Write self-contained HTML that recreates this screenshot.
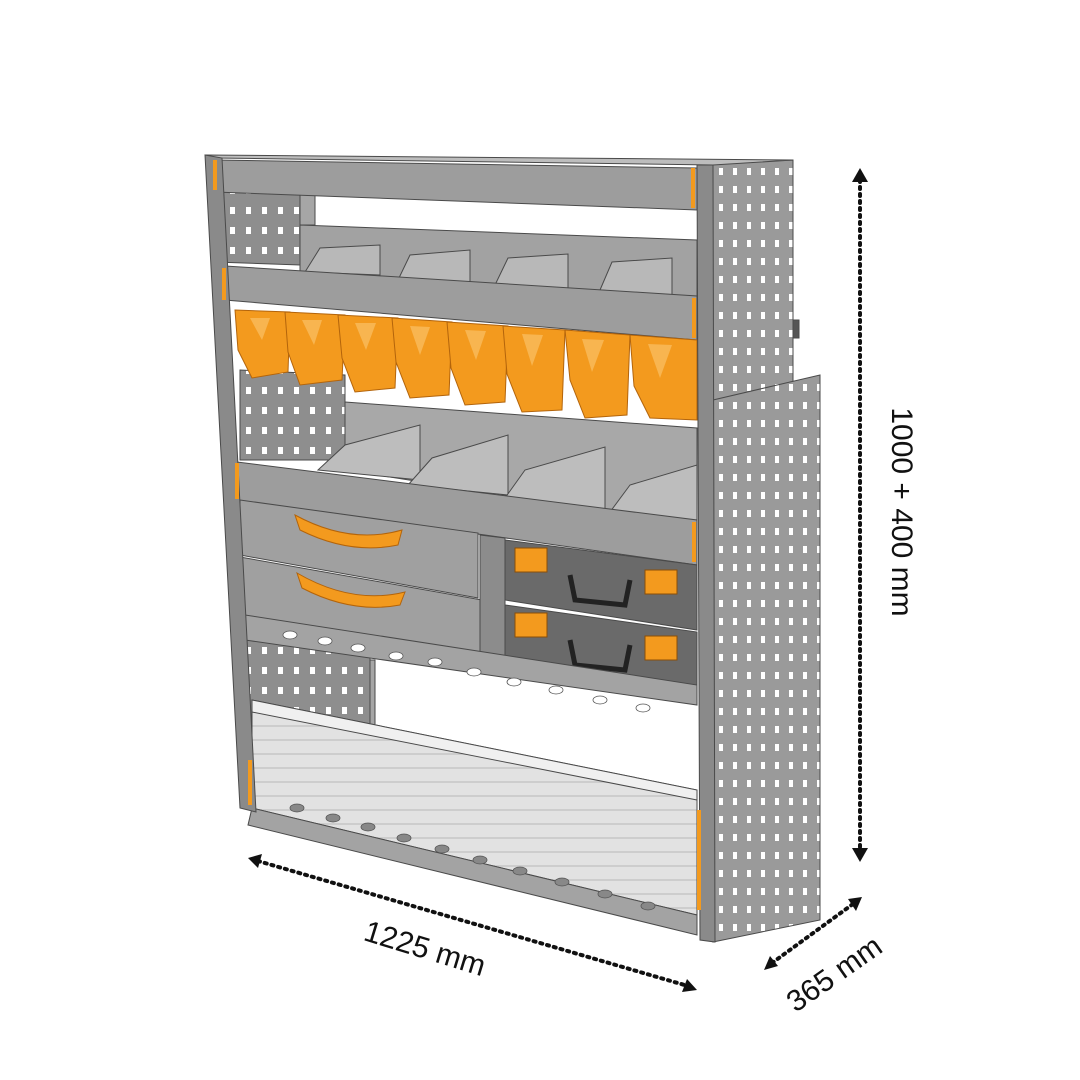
<!DOCTYPE html>
<html><head><meta charset="utf-8"><style>
html,body{margin:0;padding:0;background:#fff;width:1080px;height:1080px;overflow:hidden}
</style></head><body>
<svg width="1080" height="1080" viewBox="0 0 1080 1080" xmlns="http://www.w3.org/2000/svg" font-family="Liberation Sans, sans-serif">
<defs>
<pattern id="holes" width="16" height="20" patternUnits="userSpaceOnUse">
<rect width="16" height="20" fill="#8e8e8e"/><rect x="6" y="7" width="5" height="7" fill="#fff"/>
</pattern>
<pattern id="holesR" width="14" height="18" patternUnits="userSpaceOnUse">
<rect width="14" height="18" fill="#9a9a9a"/><rect x="5" y="6" width="4" height="7" fill="#fff"/>
</pattern>
<pattern id="shutter" width="10" height="14" patternUnits="userSpaceOnUse">
<rect width="10" height="14" fill="#e2e2e2"/><rect y="11" width="10" height="2" fill="#cdcdcd"/>
</pattern>
</defs>
<g stroke="#4a4a4a" stroke-width="1">
<polygon points="215,190 300,192 300,265 215,262" fill="url(#holes)"/>
<polygon points="300,192 315,192 315,225 300,225" fill="#a6a6a6"/>
<polygon points="240,370 345,375 345,460 240,460" fill="url(#holes)"/>
<polygon points="245,640 370,640 370,725 245,720" fill="url(#holes)"/>
<polygon points="370,660 375,660 375,725 370,725" fill="#a6a6a6"/>
<polygon points="300,225 697,240 697,298 300,272" fill="#a2a2a2"/>
<g fill="#b8b8b8">
<polygon points="305,272 320,248 380,245 380,275"/>
<polygon points="398,280 410,255 470,250 470,283"/>
<polygon points="495,285 508,258 568,254 568,290"/>
<polygon points="600,290 612,262 672,258 672,296"/>
</g>
<polygon points="713,163 793,160 793,398 713,402" fill="url(#holesR)"/>
<rect x="793" y="320" width="6" height="18" fill="#555"/>
<polygon points="713,400 820,375 820,920 713,942" fill="url(#holesR)"/>
<polygon points="205,155 793,160 713,165 215,158" fill="#bdbdbd"/>
<polygon points="215,160 697,168 697,210 215,192" fill="#9d9d9d"/>
<polygon points="225,266 697,296 697,340 225,300" fill="#9d9d9d"/>
<g fill="#f39a1e" stroke="#b3640b">
<polygon points="235,310 290,312 288,372 252,378 238,350"/>
<polygon points="285,312 345,315 342,380 300,385 288,352"/>
<polygon points="338,315 398,318 395,388 355,392 342,358"/>
<polygon points="392,318 452,322 449,395 410,398 396,362"/>
<polygon points="447,322 508,326 505,402 465,405 451,368"/>
<polygon points="503,326 565,330 562,410 522,412 507,374"/>
<polygon points="565,330 630,335 627,415 585,418 570,380"/>
<polygon points="630,335 697,340 697,420 650,418 634,386"/>
</g>
<g fill="#f8b550" stroke="none">
<polygon points="250,318 270,318 262,340"/><polygon points="302,320 322,320 314,345"/><polygon points="355,323 376,323 366,350"/><polygon points="410,326 430,327 420,355"/><polygon points="465,330 486,331 476,360"/><polygon points="522,334 543,335 532,366"/><polygon points="582,339 604,340 592,372"/><polygon points="648,344 672,345 660,378"/>
</g>
<polygon points="345,402 697,428 697,525 345,470" fill="#a8a8a8"/>
<g fill="#bdbdbd">
<polygon points="318,470 345,445 420,425 420,480"/>
<polygon points="408,485 432,458 508,435 508,495"/>
<polygon points="505,498 525,470 605,447 605,510"/>
<polygon points="610,512 630,485 697,465 697,525"/>
</g>
<polygon points="237,462 697,520 697,565 237,500" fill="#9d9d9d"/>
<polygon points="240,500 478,533 478,598 240,555" fill="#a0a0a0"/>
<polygon points="240,557 482,600 482,660 240,617" fill="#a0a0a0"/>
<path d="M295,515 Q350,545 402,530 L398,545 Q350,555 300,530Z" fill="#f39a1e" stroke="#b3640b"/>
<path d="M297,573 Q352,605 405,592 L400,605 Q352,614 302,588Z" fill="#f39a1e" stroke="#b3640b"/>
<polygon points="480,535 505,538 505,665 480,662" fill="#8c8c8c"/>
<polygon points="505,540 697,565 697,630 505,600" fill="#6a6a6a"/>
<polygon points="505,605 697,632 697,690 505,665" fill="#6a6a6a"/>
<g fill="#f39a1e" stroke="#8a4d08"><rect x="515" y="548" width="32" height="24"/><rect x="645" y="570" width="32" height="24"/><rect x="515" y="613" width="32" height="24"/><rect x="645" y="636" width="32" height="24"/></g>
<path d="M570,575 L575,600 L625,605 L630,580" fill="none" stroke="#222" stroke-width="5"/>
<path d="M570,640 L575,665 L625,670 L630,645" fill="none" stroke="#222" stroke-width="5"/>
<polygon points="245,615 697,685 697,705 245,640" fill="#a3a3a3"/>
<polygon points="252,700 697,790 697,915 252,808" fill="url(#shutter)"/>
<polygon points="252,700 697,790 697,800 252,712" fill="#f0f0f0"/>
<polygon points="252,808 697,915 697,935 248,825" fill="#a3a3a3"/>
<polygon points="205,155 222,158 256,812 240,808" fill="#8a8a8a"/>
<polygon points="697,165 713,165 715,942 700,940" fill="#8a8a8a"/>
<g fill="#f39a1e" stroke="none">
<rect x="213" y="160" width="4" height="30"/><rect x="691" y="168" width="4" height="40"/>
<rect x="222" y="268" width="4" height="32"/><rect x="692" y="298" width="4" height="40"/>
<rect x="235" y="463" width="4" height="36"/><rect x="692" y="522" width="4" height="40"/>
<rect x="697" y="810" width="4" height="100"/><rect x="248" y="760" width="4" height="45"/>
</g>
</g>
<g fill="#fff" stroke="#555" stroke-width="0.8">
<ellipse cx="290" cy="635" rx="7" ry="4"/><ellipse cx="325" cy="641" rx="7" ry="4"/><ellipse cx="358" cy="648" rx="7" ry="4"/><ellipse cx="396" cy="656" rx="7" ry="4"/><ellipse cx="435" cy="662" rx="7" ry="4"/><ellipse cx="474" cy="672" rx="7" ry="4"/><ellipse cx="514" cy="682" rx="7" ry="4"/><ellipse cx="556" cy="690" rx="7" ry="4"/><ellipse cx="600" cy="700" rx="7" ry="4"/><ellipse cx="643" cy="708" rx="7" ry="4"/>
<g fill="#888"><ellipse cx="297" cy="808" rx="7" ry="4"/><ellipse cx="333" cy="818" rx="7" ry="4"/><ellipse cx="368" cy="827" rx="7" ry="4"/><ellipse cx="404" cy="838" rx="7" ry="4"/><ellipse cx="442" cy="849" rx="7" ry="4"/><ellipse cx="480" cy="860" rx="7" ry="4"/><ellipse cx="520" cy="871" rx="7" ry="4"/><ellipse cx="562" cy="882" rx="7" ry="4"/><ellipse cx="605" cy="894" rx="7" ry="4"/><ellipse cx="648" cy="906" rx="7" ry="4"/></g>
</g>
<g stroke="#111" stroke-width="4" stroke-dasharray="2 5" stroke-linecap="round" fill="none">
<line x1="860" y1="180" x2="860" y2="852"/>
<line x1="258" y1="861" x2="688" y2="986"/>
<line x1="772" y1="963" x2="853" y2="904"/>
</g>
<g fill="#111">
<polygon points="860,168 852,182 868,182"/><polygon points="860,862 852,848 868,848"/>
<polygon points="248,858 262,854 258,868"/><polygon points="697,990 682,992 687,979"/>
<polygon points="764,970 770,956 778,966"/><polygon points="862,897 848,899 856,911"/>
</g>
<g font-size="30" fill="#111">
<text transform="translate(892,512) rotate(90)" text-anchor="middle">1000 + 400 mm</text>
<text transform="translate(422,958) rotate(17)" text-anchor="middle">1225 mm</text>
<text transform="translate(840,982) rotate(-35)" text-anchor="middle">365 mm</text>
</g>
</svg>
</body></html>
